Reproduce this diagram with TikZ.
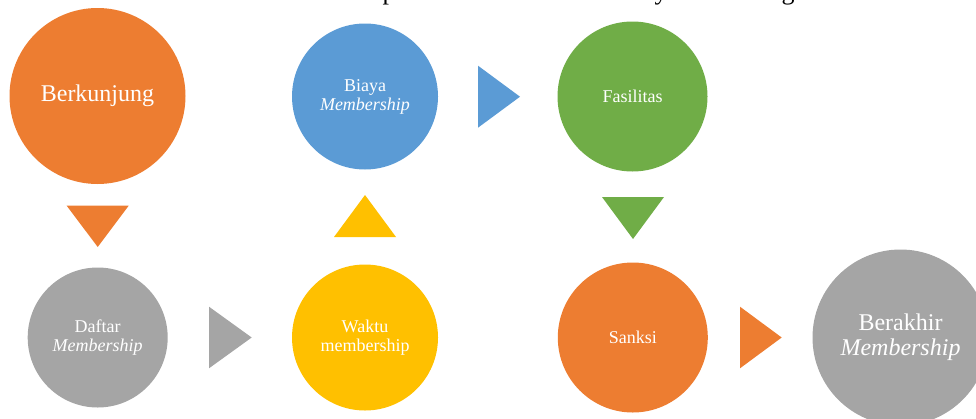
\documentclass[tikz,border=0pt]{standalone}
\usepackage{fontspec}
\setmainfont{Liberation Serif}
\definecolor{offorange}{HTML}{ED7D31}
\definecolor{offblue}{HTML}{5B9BD5}
\definecolor{offgreen}{HTML}{70AD47}
\definecolor{offgray}{HTML}{A5A5A5}
\definecolor{offyellow}{HTML}{FFC000}
\tikzset{
  stage/.style = {circle, inner sep = 0pt, text = white, align = center,
                  font = \fontsize{18}{19}\selectfont},
  bigstage/.style = {stage, font = \fontsize{24}{25}\selectfont}
}
\begin{document}
\begin{tikzpicture}[x = 1pt, y = -1pt]
    \useasboundingbox (0, 0) rectangle (976, 418);
    \clip (0, 0) rectangle (976, 418);
    % heading, only its lowest part shows
    \node[anchor = base, font = \fontsize{26}{26}\selectfont] (headp) at (389, -1) {p};
    \node[anchor = base, font = \fontsize{26}{26}\selectfont] (heady) at (661, -1) {y};
    \node[anchor = base, font = \fontsize{26}{26}\selectfont] (headg) at (788, -1) {g};
    % the stages
    \node[bigstage, fill = offorange, minimum size = 176pt] (berkunjung) at ( 97.5,  96)   {Berkunjung};
    \node[stage,    fill = offblue,   minimum size = 146pt] (biaya)      at (365,    96.5) {Biaya\\\textit{Membership}};
    \node[stage,    fill = offgreen,  minimum size = 150pt] (fasilitas)  at (632.5,  96.5) {Fasilitas};
    \node[stage,    fill = offgray,   minimum size = 140pt] (daftar)     at ( 97.7, 337.5) {Daftar\\\textit{Membership}};
    \node[stage,    fill = offyellow, minimum size = 146pt] (waktu)      at (365,   337.5) {Waktu\\membership};
    \node[stage,    fill = offorange, minimum size = 150pt] (sanksi)     at (632.8, 337.5) {Sanksi};
    \node[bigstage, fill = offgray,   minimum size = 176pt] (berakhir)   at (900.5, 337.5) {Berakhir\\\textit{Membership}};
    % arrows between the stages
    \fill[offorange]  ( 66.7, 205.7) -- (128.7, 205.7) -- ( 97.7, 247)   -- cycle;
    \fill[offgray]    (209,   306.7) -- (209,   368.3) -- (251.7, 337.5) -- cycle;
    \fill[offyellow]  (334,   237)   -- (396,   237)   -- (365,   195)   -- cycle;
    \fill[offblue]    (478,    65.7) -- (478,   127.7) -- (520,    96.7) -- cycle;
    \fill[offgreen]   (602,   197)   -- (664,   197)   -- (633,   239)   -- cycle;
    \fill[offorange]  (740,   306.7) -- (740,   368.3) -- (781.7, 337.5) -- cycle;
  \end{tikzpicture}
\end{document}
